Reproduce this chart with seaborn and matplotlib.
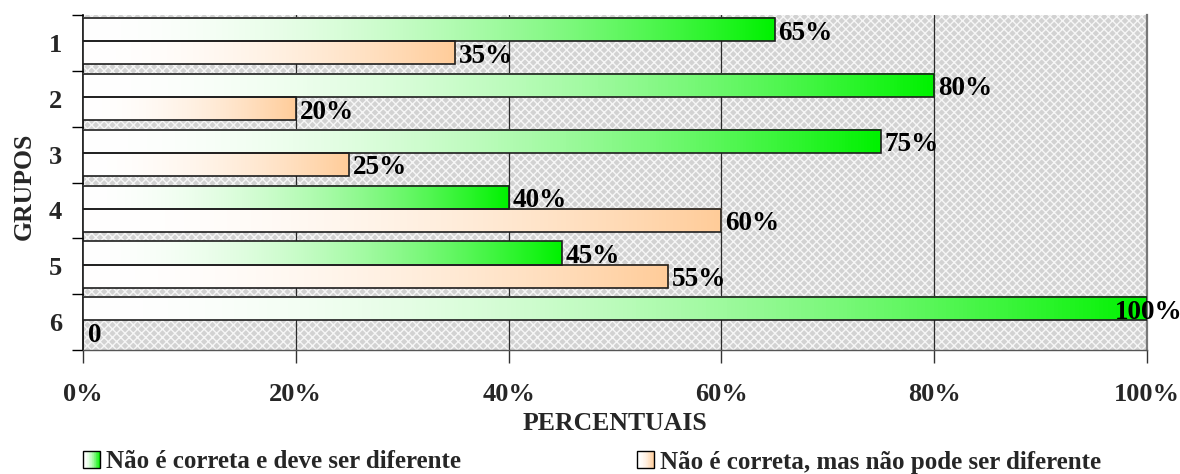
import numpy as np
import pandas as pd
import matplotlib
matplotlib.use("Agg")
import matplotlib.pyplot as plt
import seaborn as sns
from matplotlib.colors import LinearSegmentedColormap, to_rgb
from matplotlib.patches import Rectangle, Patch
from matplotlib.legend_handler import HandlerBase
from matplotlib.ticker import FixedLocator

# ---- data -------------------------------------------------------------
grupos = ["1", "2", "3", "4", "5", "6"]
series = ["Não é correta e deve ser diferente",
          "Não é correta, mas não pode ser diferente"]
deve_ser_diferente = [65, 80, 75, 40, 45, 100]
nao_pode_ser_diferente = [35, 20, 25, 60, 55, 0]
xticks = [0, 20, 40, 60, 80, 100]
xtick_labels = ["0%", "20%", "40%", "60%", "80%", "100%"]

end_colors = ["#00f200", "#ffcc99"]

df = pd.DataFrame({
    "grupo": grupos * 2,
    "serie": [series[0]] * len(grupos) + [series[1]] * len(grupos),
    "valor": deve_ser_diferente + nao_pode_ser_diferente,
})

# ---- style ------------------------------------------------------------
sns.set_theme(style="white")
plt.rcParams["font.family"] = ["Liberation Serif", "DejaVu Serif"]
plt.rcParams["font.weight"] = "bold"
plt.rcParams["hatch.linewidth"] = 1.0
FS_TICK = 19
FS_VAL = 19.5
FS_LAB = 18.5
FS_LEG = 18


def gradient_cmap(end):
    # white towards the series colour, the colour building up late
    t = np.linspace(0, 1, 64)
    w = np.array([1.0, 1.0, 1.0])
    c = np.array(to_rgb(end))
    cols = [tuple(w + (c - w) * (ti ** 1.9)) for ti in t]
    return LinearSegmentedColormap.from_list("g", cols)


cmaps = [gradient_cmap(c) for c in end_colors]

fig = plt.figure(figsize=(11.8, 4.74), dpi=100)
ax = fig.add_axes([83 / 1180, 1 - 350 / 474, 1064 / 1180, 335 / 474])

sns.barplot(data=df, y="grupo", x="valor", hue="serie", order=grupos,
            hue_order=series, orient="h", width=0.83, ax=ax,
            palette=end_colors, legend=False, zorder=3)

# textured plot background
ax.set_facecolor("#d2d2d2")
ax.add_patch(Rectangle((0, 0), 1, 1, transform=ax.transAxes, facecolor="none",
                       edgecolor="#f6f6f6", hatch="xxxx", linewidth=0, zorder=0.2))

ax.set_xlim(0, 100)
ylim = (len(grupos) - 0.5, -0.5)

# gradient fills inside each bar
for cont, cmap in zip(ax.containers, cmaps):
    for bar in cont:
        x0, y0 = bar.get_x(), bar.get_y()
        w, h = bar.get_width(), bar.get_height()
        bar.set_y(y0 - 0.03)
        y0 = bar.get_y()
        bar.set_facecolor("none")
        bar.set_edgecolor("#1e1e1e")
        bar.set_linewidth(1.2)
        bar.set_zorder(4)
        if w > 0:
            grad = np.linspace(0, 1, 256).reshape(1, -1)
            ax.imshow(grad, cmap=cmap, aspect="auto", interpolation="bilinear",
                      extent=[x0, x0 + w, y0 + h, y0], zorder=3)
ax.set_ylim(*ylim)
ax.set_xlim(0, 100)

# value labels
for cont in ax.containers:
    for bar in cont:
        v = bar.get_width()
        yc = bar.get_y() + bar.get_height() / 2
        txt = f"{v:.0f}%" if v > 0 else "0"
        xpos = min(v, 96.6) + 0.35 if v > 0 else 0.5
        ax.text(xpos, yc + 0.06, txt, ha="left", va="center", fontsize=FS_VAL,
                fontweight="bold", color="black", zorder=6)

# grid and spines
ax.xaxis.set_major_locator(FixedLocator(xticks))
ax.set_xticklabels(xtick_labels, fontsize=FS_TICK, fontweight="bold")
for xv in xticks[1:-1]:
    ax.axvline(xv, color="#2a2a2a", linewidth=0.9, zorder=1)
ax.spines["top"].set_visible(False)
ax.spines["right"].set_color("#777777")
ax.spines["right"].set_linewidth(1.6)
ax.spines["left"].set_color("black")
ax.spines["left"].set_linewidth(1.2)
ax.spines["bottom"].set_color("#555555")
ax.spines["bottom"].set_linewidth(1.0)

ax.tick_params(axis="x", which="major", direction="out", length=9, width=1.0,
               color="#333333", pad=15, bottom=True)
ax.set_yticks(range(len(grupos)))
ax.set_yticklabels(grupos, fontsize=FS_TICK, fontweight="bold")
ax.tick_params(axis="y", which="major", length=0, pad=15)
ax.yaxis.set_minor_locator(FixedLocator(np.arange(-0.5, len(grupos), 1.0)))
ax.tick_params(axis="y", which="minor", direction="out", length=8, width=1.0,
               color="black", left=True)

ax.set_xlabel("PERCENTUAIS", fontsize=FS_LAB, fontweight="bold")
ax.set_ylabel("GRUPOS", fontsize=FS_LAB, fontweight="bold")
ax.xaxis.set_label_coords(0.5, -0.186)
ax.yaxis.set_label_coords(-0.044, 0.49)


class GradientHandler(HandlerBase):
    def __init__(self, cmap):
        super().__init__()
        self.cmap = cmap

    def create_artists(self, legend, orig_handle, xdescent, ydescent,
                       width, height, fontsize, trans):
        n = 24
        arts = []
        for i in range(n):
            arts.append(Rectangle((-xdescent + i * width / n, -ydescent),
                                  width / n + 0.3, height,
                                  facecolor=self.cmap(i / (n - 1)),
                                  edgecolor="none", transform=trans))
        arts.append(Rectangle((-xdescent, -ydescent), width, height,
                              facecolor="none", edgecolor="black",
                              linewidth=1.0, transform=trans))
        return arts


legend_x = [83 / 1180, 637 / 1180]
for lab, cmap, lx in zip(series, cmaps, legend_x):
    h = Patch(label=lab)
    fig.legend(handles=[h], labels=[lab], loc="center left",
               bbox_to_anchor=(lx, 1 - 462 / 474), frameon=False,
               handler_map={h: GradientHandler(cmap)},
               prop={"size": FS_LEG, "weight": "bold"},
               handlelength=0.68, handleheight=0.68, handletextpad=0.25,
               borderpad=0.0, borderaxespad=0.0)

fig.savefig("out.png", dpi=100)
